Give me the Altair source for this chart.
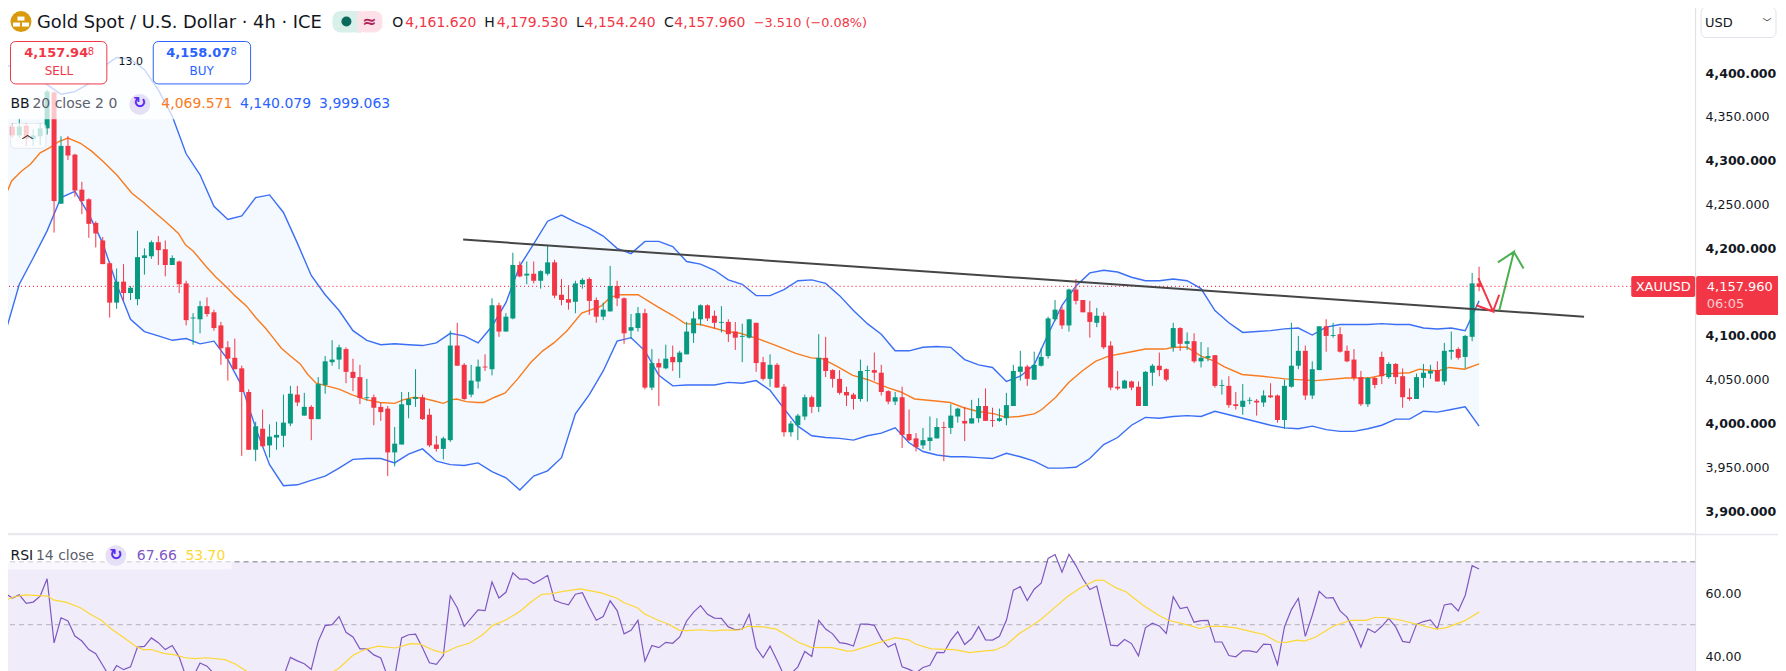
import altair as alt
import pandas as pd

# ---------- candles (USD) ----------
high = [4346,4343,4348,4343,4336,4343,4381,4379,4328,4328,
4308,4276,4257,4231,4213,4185,4177,4182,4157,4220,
4200,4209,4214,4209,4192,4186,4163,4126,4140,4144,
4130,4116,4094,4097,4066,4039,4002,4016,3999,4002,
4033,4043,4043,4035,4021,4053,4077,4095,4090,4087,
4074,4067,4051,4033,4024,4020,3996,4036,4036,4062,
4033,4017,3986,3985,4106,4115,4069,4067,4073,4079,
4143,4138,4126,4195,4185,4185,4185,4175,4203,4187,
4165,4158,4163,4166,4167,4144,4138,4180,4163,4144,
4125,4133,4131,4085,4074,4090,4089,4083,4116,4128,
4136,4136,4129,4134,4119,4116,4114,4119,4115,4076,
4079,4069,4045,4003,4011,4033,4032,4102,4099,4062,
4061,4042,4035,4073,4066,4081,4067,4038,4036,4042,
4016,3989,3995,4008,4006,4002,4022,4018,4019,4027,
4029,4040,4018,4017,4035,4067,4083,4067,4082,4086,
4122,4141,4134,4154,4165,4141,4140,4132,4127,4094,
4060,4050,4049,4048,4060,4068,4081,4063,4115,4110,
4104,4103,4093,4087,4078,4050,4054,4036,4045,4030,
4028,4038,4046,4033,4050,4115,4100,4089,4071,4111,
4119,4115,4110,4089,4085,4060,4053,4053,4082,4070,
4069,4063,4040,4057,4068,4067,4071,4092,4105,4087,4101,4172,4179]
body_top = [4339,4339,4339,4340,4329,4337,4379,4378,4317,4317,
4307,4267,4256,4229,4209,4183,4162,4162,4155,4190,
4192,4207,4207,4199,4189,4185,4160,4121,4134,4134,
4127,4112,4087,4075,4063,4036,3997,3994,3985,3987,
4001,4034,4033,4019,4019,4045,4071,4073,4087,4085,
4059,4053,4030,4030,4019,4017,3977,4022,4028,4030,
4030,4010,3976,3983,4089,4089,4067,4049,4065,4065,
4135,4135,4122,4181,4181,4171,4171,4174,4184,4184,
4147,4142,4160,4164,4165,4141,4130,4157,4157,4143,
4110,4126,4126,4069,4069,4074,4076,4081,4105,4120,
4135,4135,4123,4116,4116,4105,4100,4119,4115,4070,
4067,4067,4042,4000,4009,4030,4030,4075,4075,4061,
4051,4036,4033,4060,4061,4061,4058,4037,4030,4030,
3988,3983,3981,3984,3996,3996,4009,4017,4003,4006,
4020,4020,4004,4006,4021,4060,4065,4065,4067,4076,
4120,4130,4130,4153,4153,4141,4127,4123,4123,4089,
4042,4049,4048,4042,4059,4066,4066,4062,4109,4109,
4094,4094,4075,4077,4078,4044,4043,4022,4026,4027,
4026,4032,4032,4032,4043,4066,4083,4083,4062,4111,
4111,4101,4102,4083,4073,4053,4052,4052,4076,4068,
4068,4054,4030,4053,4058,4060,4061,4083,4084,4085,4100,4160,4160]
body_bottom = [4329,4329,4329,4325,4325,4328,4337,4254,4251,4306,
4266,4254,4228,4217,4182,4138,4138,4149,4149,4142,
4189,4191,4198,4181,4181,4159,4118,4120,4119,4125,
4109,4086,4074,4062,4036,3970,3970,3974,3975,3984,
3986,4000,4024,4009,4005,4005,4044,4070,4073,4059,
4052,4029,4029,4018,4013,3967,3967,3976,4021,4028,
4005,3975,3971,3971,3981,4066,4028,4033,4048,4064,
4062,4105,4105,4120,4168,4169,4163,4163,4171,4146,
4141,4138,4139,4159,4140,4122,4122,4128,4143,4103,
4106,4109,4041,4041,4064,4063,4070,4070,4079,4103,
4119,4120,4115,4115,4102,4098,4099,4098,4069,4051,
4051,4041,3990,3990,3998,4008,4019,4019,4060,4051,
4035,4032,4028,4028,4060,4058,4036,4025,4025,3987,
3981,3973,3975,3980,3983,3995,3995,4008,4000,4000,
4006,4003,4003,4003,4006,4020,4059,4051,4050,4066,
4077,4119,4112,4112,4140,4127,4116,4115,4087,4041,
4040,4040,4041,4020,4020,4058,4061,4050,4087,4091,
4091,4071,4071,4075,4043,4043,4021,4020,4019,4026,
4024,4024,4030,4004,4004,4042,4066,4032,4032,4061,
4100,4100,4082,4071,4052,4022,4022,4044,4054,4053,
4053,4030,4028,4028,4052,4057,4048,4048,4082,4075,4076,4099,4156]
low = [4313,4326,4326,4317,4317,4318,4330,4218,4251,4301,
4259,4239,4212,4201,4182,4121,4131,4140,4141,4135,
4170,4188,4181,4168,4181,4149,4112,4090,4103,4122,
4106,4067,4049,4062,3963,3970,3957,3973,3961,3970,
3973,3997,4020,4009,3981,4005,4034,4066,4062,4046,
4037,4022,4026,3998,4003,3940,3951,3976,4006,4019,
4004,3973,3968,3959,3979,4066,4027,4030,4040,4060,
4055,4099,4105,4119,4167,4159,4160,4154,4169,4143,
4135,4130,4126,4154,4124,4115,4118,4128,4134,4091,
4097,4105,4039,4038,4020,4062,4060,4052,4079,4092,
4112,4117,4108,4104,4093,4084,4070,4097,4059,4049,
4042,4041,3985,3985,3981,4004,4012,4013,4053,4041,
4033,4020,4016,4025,4025,4049,4032,4022,4021,3972,
3980,3968,3971,3969,3983,3957,3988,4001,3980,4000,
4001,4003,3996,4002,3998,4020,4049,4043,4050,4065,
4074,4117,4108,4105,4136,4127,4098,4110,4085,4038,
4038,4040,4038,4020,4020,4043,4054,4048,4082,4083,
4084,4069,4064,4071,4041,4033,4018,4016,4010,4022,
4009,4019,4029,4001,3994,4041,4062,4027,4028,4061,
4082,4098,4081,4070,4049,4020,4019,4040,4045,4051,
4045,4018,4026,4028,4041,4051,4048,4044,4073,4073,4063,4094,4151]
direction = ("GRGRGGGRGR" "RRRRRRGRGG" "GGRRGRRGGR" "RRRRRRGRGG" "GGRGRGGGGR"
             "RRGRRRGGGG" "RRRGGRRGGR" "GRGGRGRGGR" "RRGGRRGGRR" "GGRGRGRGGG"
             "GRRGRRGGRR" "GRRGGGRGRR" "RRRGGRRRGR" "RRGGGRGGRG" "GRRGGGGRGG"
             "GGRGRRRGRR" "RGRRGGRRGR" "GRGGRGRRGG" "RGRRGGGRGG" "RGRRRRGRRG"
             "RRRGGGRGGRGGR")

# ---------- Bollinger bands, read every second candle ----------
bb_upper = [4410,4404,4397,4387,4376,4379,4388,4407,4418,4416,4404,4381,4351,4308,4284,4248,4233,4237,4258,4261,
4241,4206,4169,4147,4129,4106,4095,4090,4091,4090,4089,4092,4103,4100,4092,4111,4138,4180,4205,4231,
4238,4230,4223,4214,4200,4194,4208,4208,4202,4185,4182,4175,4164,4159,4146,4146,4153,4163,4164,4160,
4146,4129,4114,4102,4083,4083,4087,4088,4087,4073,4067,4064,4048,4054,4067,4102,4135,4157,4172,4175,
4173,4167,4163,4163,4165,4163,4154,4129,4115,4104,4105,4106,4108,4109,4101,4110,4113,4113,4113,4114,
4113,4113,4109,4108,4109,4106,4140]
bb_lower = [4104,4159,4189,4220,4258,4265,4239,4206,4159,4119,4105,4100,4095,4097,4091,4094,4073,4043,3995,3953,
3929,3930,3935,3940,3949,3959,3960,3960,3955,3965,3971,3957,3953,3952,3955,3945,3938,3924,3940,3946,
3961,4011,4033,4060,4094,4098,4083,4055,4043,4044,4044,4044,4047,4046,4049,4038,4017,3997,3986,3984,
3983,3981,3986,3989,3995,3978,3968,3964,3962,3962,3961,3960,3966,3962,3957,3949,3949,3950,3960,3976,
3984,3998,4007,4006,4008,4009,4008,4014,4010,4006,4002,3998,3995,3994,3997,3993,3991,3991,3994,3998,
4005,4005,4014,4013,4016,4019,3997]
bb_mid_x = [0,0.9,2.3,3.6,5,6.4,7.7,9,10.8,12.4,14.1,16,18.2,19.8,21.5,23.1,24.9,25.9,27,28.9,30.3,31.9,33,34.7,36,37.4,38.5,39.7,41,42.4,43.5,44.7,46.2,48.1,49.8,52,53.9,56,57.2,58.8,60,61.6,63,64.1,64.9,66.3,67.9,68.8,70.4,71.9,73.7,75.6,77.3,78.9,80.8,82.9,85.7,
87,88.4,91,93.9,96.1,97.8,100,101.9,103.8,105.7,108.2,110.9,113.7,115.9,117.5,119.7,121.9,124.1,126.9,128.8,130.8,133.5,135.9,137.9,139.8,142.3,143.9,145.8,148,149.1,151.1,153,154.9,156.8,158.7,162,164,166.7,168.1,170,
171,172,174,175.3,177.9,180.8,184.1,188.5,192.9,196.2,199,202,203.4,206.1,207.7,209.9,212]
bb_mid = [4260,4277,4288,4296,4309,4315,4322,4326,4320,4311,4299,4284,4263,4253,4241,4230,4217,4204,4197,4179,4167,4155,4146,4134,4121,4109,4098,4086,4077,4068,4056,4046,4043,4039,4033,4027,4024,4023,4027,4030,4029,4026,4023,4027,4028,4025,4024,4024,4030,4035,4051,4070,4083,4092,4106,4126,4134,
4144,4147,4147,4133,4123,4114,4113,4109,4105,4103,4097,4089,4080,4075,4074,4065,4055,4050,4041,4036,4028,4026,4024,4018,4014,4011,4007,4008,4011,4016,4030,4047,4060,4071,4077,4082,4085,4085,4087,4087,
4082,4077,4071,4065,4056,4054,4051,4049,4052,4052,4057,4058,4062,4060,4064,4062,4068]

# ---------- RSI per candle ----------
rsi = [59.9,58.5,59.5,56.8,57.2,59.1,64.6,44.2,52.2,51.2,
46.4,44.8,42.1,40.8,37.1,33.4,37,35.7,36.6,42.9,
43.1,45.8,44.3,42.1,43.4,39.7,33.4,33.4,37.8,36.8,
34.4,31,29,30,26,24,27,27,29,30,
33.4,39.6,38.5,37.6,35.8,44.7,49.7,50,52.6,47.6,
46.1,42.3,42.3,40.4,39.4,33.4,33.4,45.8,46.8,47,
42.7,37.9,37.4,40.2,59.2,55.4,49.5,52.1,54.7,54.5,
63.6,58.5,60.3,66.5,64.5,64.5,63.1,64.3,65.7,57.8,
56.9,56.3,59.7,60.2,55.6,51.4,52.6,57.6,54.5,47.1,
48.2,51.4,38.4,43.4,42.7,44.4,44.1,46.1,51.2,54,
56.1,53.3,52.1,52,49.3,48.4,48.6,53.3,42.7,39.5,
43.2,38.7,33.9,34.4,36.6,41.5,39.9,51.4,48.6,47.1,
44.3,44,43.2,50.2,50.2,49.8,45.6,42.9,44,36.6,
35.8,34.7,36.4,37.1,41.2,41.1,45,47.8,43.7,45.6,
49.4,45.2,45.1,46.3,51.4,61,62.1,57.7,61.3,63.2,
71.1,72.3,66.7,72.4,68.8,64.6,61.2,62.3,53,43.5,
43.3,45.3,44,40.1,49,50.5,49.6,47.2,58.9,55.1,
55.6,50.8,51.3,51.4,44.5,44.5,40.2,39.8,41.7,41.7,
41.2,43.8,43.7,37.3,49.3,54.8,58.4,46.3,53,60.6,
58.5,58.6,54.4,52.4,48.2,42.9,48.7,47.5,49.5,52,
49.3,44.7,44.3,50.1,51,51.5,48.7,56.3,56.7,54.4,59.3,68.8,67.7]
rsi_ma_x = [0,1.2,2.8,6.1,6.9,8.8,10.8,12.1,13.8,15.2,17.1,18.7,19.8,21,22.9,24.2,25.9,27.3,28.9,31.6,33,34.7,35.8,38,41,44,47.2,47.9,50,51.7,53.6,56.1,58.3,59.7,61.6,63,64.9,66.8,68.7,70.1,71.9,74,75.6,77.1,78.6,80,82.7,85.7,
87.9,89,90.9,91.9,93.9,95.3,96.9,98,100,101.9,103,104.9,105.7,106.8,109,110.9,112.6,114,115.9,118.9,121.1,121.9,124.1,126.1,128,129.9,131,133.2,136.5,138.7,140.6,142.3,143.9,145.8,147.2,148.9,150.2,152.7,154.6,156.8,157.9,159.8,161.2,163.7,165.9,167.3,170.3,
171.8,173.1,175.1,177,180,181.1,183,184.1,185.8,186.9,188.5,191,193.5,195.7,197,198.4,200.6,202.8,205.8,207.2,209.9,212]
rsi_ma = [57.7,58.8,59.5,59.1,57.9,57.1,55.4,53.5,51.4,48.7,45.8,43.2,42.1,42.1,40.8,40.5,39.5,39.2,39.5,38.9,37.6,35.2,33.4,31.3,30.2,32.3,35.2,36,40.3,42.1,43.2,42.6,44,43.8,41.9,41,42.9,44.2,46.9,49.8,51.4,54.2,57.2,59.6,59.9,60.5,61.4,60.1,
58.5,57,55.4,53.5,51.4,50.3,48.3,48.1,48.4,48,48.3,48.3,48.4,49.5,49.3,48.6,46.4,44.5,42.8,42.7,41.6,41.7,43.2,44.6,45.9,45.2,43.8,42.3,42.1,41.1,41.6,41.9,43.4,47.1,49,51.6,54,58.8,61.7,64.1,64.2,61.7,60.5,56.1,53,51.4,49.8,
48.8,49.5,49.5,49,47.4,46.9,44.5,44.3,45.1,44.8,46.1,49.5,51.4,51.4,52.3,52.3,51.5,50.3,48.6,49,51.2,54]

# ---------- drawings ----------
trend_x = [65.85, 227.1]
trend_y = [4210, 4122]
red_arrow_x = [211.9, 214, 211.6, 214, 214.9]
red_arrow_y = [4166, 4128, 4135, 4128, 4147]
green_arrow_x = [214.9, 217, 214.7, 217, 218.4]
green_arrow_y = [4129, 4196, 4184, 4196, 4177]
last_price_line = 4156.7

price_ticks = [3900, 3950, 4000, 4050, 4100, 4200, 4250, 4300, 4350, 4400]
rsi_ticks = [40, 60]

GREEN, RED, BLUE, ORANGE = "#089981", "#f23645", "#3a6ef5", "#f97b1e"
PURPLE, YELLOW = "#7e57c2", "#fdd835"
FONT = "DejaVu Sans"
W, H1, H2 = 1696, 533, 138
XDOM = [-0.488, 243.08]
YDOM = [3874.2, 4481.8]
RDOM = [35.14, 78.95]

candles = pd.DataFrame({"i": range(len(high)), "high": high, "low": low,
                        "top": body_top, "bottom": body_bottom, "dir": list(direction)})
step = 2
bands = pd.DataFrame({"i": [k * step for k in range(len(bb_upper))], "upper": bb_upper, "lower": bb_lower})
mid = pd.DataFrame({"i": bb_mid_x, "v": bb_mid})
rsi_df = pd.DataFrame({"i": range(len(rsi)), "v": rsi})
rsi_ma_df = pd.DataFrame({"i": rsi_ma_x, "v": rsi_ma})

x_scale = alt.Scale(domain=XDOM, nice=False, zero=False, padding=0)
x_enc = alt.X("i:Q", scale=x_scale, axis=None)
col = alt.Color("dir:N", scale=alt.Scale(domain=["G", "R"], range=[GREEN, RED]), legend=None)
y_scale = alt.Scale(domain=YDOM, nice=False, zero=False)
y_axis = alt.Axis(values=price_ticks, format=",.3f", orient="right", domain=False, ticks=False, grid=False,
                  labelPadding=10, labelFont=FONT, labelFontSize=12.6, labelColor="#131722",
                  labelFontWeight=alt.condition("datum.value % 100 === 0", alt.value("bold"), alt.value("normal")),
                  title=None)
one = alt.Data(values=[{"a": 1}])


def text(s, x, y, size=13, color="#131722", align="left", weight="normal", font=FONT, opacity=1.0):
    return alt.Chart(one).mark_text(text=s, align=align, baseline="middle", fontSize=size, color=color,
                                    fontWeight=weight, font=font, opacity=opacity).encode(
        x=alt.value(x), y=alt.value(y))


def box(x1, x2, y1, y2, fill="white", stroke=None, radius=0, opacity=1.0, sw=1):
    kw = dict(fill=fill, cornerRadius=radius, opacity=opacity)
    if stroke:
        kw.update(stroke=stroke, strokeWidth=sw)
    return alt.Chart(one).mark_rect(**kw).encode(
        x=alt.value(x1), x2=alt.value(x2), y=alt.value(y1), y2=alt.value(y2))


def dot(x, y, d, color):
    return alt.Chart(one).mark_point(filled=True, size=d * d, color=color, opacity=1, shape="circle").encode(
        x=alt.value(x), y=alt.value(y))


def poly(xs, ys, color, w):
    df = pd.DataFrame({"i": xs, "v": ys, "k": range(len(xs))})
    return alt.Chart(df).mark_line(color=color, strokeWidth=w).encode(
        x=x_enc, y=alt.Y("v:Q", scale=y_scale, axis=y_axis), order="k:Q")


area = alt.Chart(bands).mark_area(color="#f3f9fe", opacity=1).encode(
    x=x_enc, y=alt.Y("upper:Q", scale=y_scale, axis=y_axis), y2="lower:Q")
up_line = alt.Chart(bands).mark_line(color=BLUE, strokeWidth=1.4).encode(x=x_enc, y=alt.Y("upper:Q", scale=y_scale, axis=y_axis))
lo_line = alt.Chart(bands).mark_line(color=BLUE, strokeWidth=1.4).encode(x=x_enc, y=alt.Y("lower:Q", scale=y_scale, axis=y_axis))
mid_line = alt.Chart(mid).mark_line(color=ORANGE, strokeWidth=1.4).encode(x=x_enc, y=alt.Y("v:Q", scale=y_scale, axis=y_axis))
price_line = alt.Chart(pd.DataFrame({"p": [last_price_line]})).mark_rule(
    color=RED, strokeDash=[1, 3], strokeWidth=1.2).encode(y=alt.Y("p:Q", scale=y_scale, axis=y_axis))
wicks = alt.Chart(candles).mark_rule(strokeWidth=1).encode(
    x=x_enc, y=alt.Y("high:Q", scale=y_scale, axis=y_axis), y2="low:Q", color=col)
bodies = alt.Chart(candles).mark_bar(size=5).encode(
    x=x_enc, y=alt.Y("top:Q", scale=y_scale, axis=y_axis), y2="bottom:Q", color=col)

overlays = [
    box(0, 392, 0, 118, opacity=0.72),
    # title row
    dot(19, 20, 21, "#d99a0e"),
    box(15.5, 22.5, 15, 19), box(11, 18, 21, 25), box(20, 27, 21, 25),
    text("Gold Spot / U.S. Dollar · 4h · ICE", 35, 21, size=17.9),
    box(331, 358, 9.5, 31, fill="#d9efe9", radius=8), box(356, 381, 9.5, 31, fill="#fde0e8", radius=8),
    box(352, 360, 9.5, 31, fill="#d9efe9"), box(356, 360, 9.5, 31, fill="#fde0e8"),
    dot(345, 20, 10, "#0a6b5c"),
    text("≈", 368, 20, size=17, color="#b0245a", align="center", weight="bold"),
    text("O", 391, 21, size=14), text("4,161.620", 404, 21, size=14, color=RED),
    text("H", 483, 21, size=14), text("4,179.530", 495.6, 21, size=14, color=RED),
    text("L", 575, 21, size=14), text("4,154.240", 583.6, 21, size=14, color=RED),
    text("C", 663, 21, size=14), text("4,157.960", 673.5, 21, size=14, color=RED),
    text("−3.510 (−0.08%)", 753, 21, size=12.9, color=RED),
    # buy / sell
    box(8.5, 105, 40, 82.5, stroke=RED, radius=5),
    text("4,157.94", 22.2, 52, size=13, color=RED, weight="bold"),
    text("8", 86, 51, size=10, color=RED),
    text("SELL", 57, 70, size=12, color=RED, align="center"),
    text("13.0", 129, 61, size=11, align="center"),
    box(151.5, 249, 40, 82.5, stroke="#2962ff", radius=5),
    text("4,158.07", 164.6, 52, size=13, color="#2962ff", weight="bold"),
    text("8", 229, 51, size=10, color="#2962ff"),
    text("BUY", 200, 70, size=12, color="#2962ff", align="center"),
    # BB legend
    text("BB", 8.5, 103, size=14),
    text("20 close 2 0", 30.5, 103, size=14, color="#5d606b"),
    dot(138, 103, 21, "#e6e0f6"),
    text("↻", 138, 102, size=16, color="#5a2cf0", align="center", weight="bold"),
    text("4,069.571", 159.6, 103, size=14, color=ORANGE),
    text("4,140.079", 238.4, 103, size=14, color="#2962ff"),
    text("3,999.063", 317.6, 103, size=14, color="#2962ff"),
    box(8.5, 44, 122, 147, fill="white", stroke="#e0e3eb", radius=4, opacity=0.75),
    text("︿", 25.5, 134, size=12, align="center", font="Noto Sans CJK SC"),
    # price scale widgets
    box(1702, 1777, 5.5, 36, stroke="#e0e3eb", radius=5),
    text("USD", 1706, 21, size=13),
    text("﹀", 1768, 21, size=9, align="center", font="Noto Sans CJK SC"),
    box(1632, 1696, 275, 296, fill=RED, radius=2),
    text("XAUUSD", 1664, 285.5, size=13, color="white", align="center"),
    box(1697, 1780, 275, 314, fill=RED, radius=2),
    text("4,157.960", 1707.7, 285.5, size=13, color="white"),
    text("06:05", 1707.7, 303, size=13, color="white", opacity=0.75),
]

top = alt.layer(area, up_line, lo_line, mid_line, price_line, wicks, bodies,
                poly(trend_x, trend_y, "#454545", 2),
                poly(red_arrow_x, red_arrow_y, RED, 2),
                poly(green_arrow_x, green_arrow_y, "#4caf50", 2),
                *overlays).properties(width=W, height=H1)

# RSI pane
r_scale = alt.Scale(domain=RDOM, nice=False, zero=False)
r_axis = alt.Axis(values=rsi_ticks, format=".2f", orient="right", domain=False, ticks=False, grid=False,
                  labelPadding=10, labelFont=FONT, labelFontSize=12.6, labelColor="#131722", title=None)
fill_rsi = alt.Chart(pd.DataFrame({"a": [70], "b": [RDOM[0]]})).mark_rect(color="#f0ecf9").encode(
    y=alt.Y("a:Q", scale=r_scale, axis=r_axis), y2="b:Q")
sep = box(0, 1786, 0, 1.5, fill="#e6e8ee")
lv70 = alt.Chart(pd.DataFrame({"v": [70]})).mark_rule(color="#787b86", strokeDash=[5, 4], strokeWidth=1).encode(
    y=alt.Y("v:Q", scale=r_scale, axis=r_axis))
lv50 = alt.Chart(pd.DataFrame({"v": [50]})).mark_rule(color="#b2afbd", strokeDash=[5, 4], strokeWidth=1).encode(
    y=alt.Y("v:Q", scale=r_scale, axis=r_axis))
rsi_line = alt.Chart(rsi_df).mark_line(color=PURPLE, strokeWidth=1.2, clip=True).encode(
    x=x_enc, y=alt.Y("v:Q", scale=r_scale, axis=r_axis))
ma_line = alt.Chart(rsi_ma_df).mark_line(color=YELLOW, strokeWidth=1.2, clip=True).encode(
    x=x_enc, y=alt.Y("v:Q", scale=r_scale, axis=r_axis))
ry = 22
r_over = [
    box(2, 230, 8, 36, opacity=0.6),
    text("RSI", 8.5, ry, size=14),
    text("14 close", 34, ry, size=14, color="#5d606b"),
    dot(114, ry, 21, "#e6e0f6"),
    text("↻", 114, ry - 1, size=16, color="#5a2cf0", align="center", weight="bold"),
    text("67.66", 135, ry, size=14, color=PURPLE),
    text("53.70", 183.7, ry, size=14, color=YELLOW),
]
bottom = alt.layer(fill_rsi, sep, lv70, lv50, rsi_line, ma_line, *r_over).properties(width=W, height=H2)

chart = alt.vconcat(top, bottom, spacing=0, bounds="flush").properties(
    padding={"left": -8, "top": -8, "right": -8, "bottom": 0}
).configure_view(strokeWidth=0, stroke="transparent").configure(background="white")

chart.save("out.html", embed_options={"renderer": "svg", "actions": False})
